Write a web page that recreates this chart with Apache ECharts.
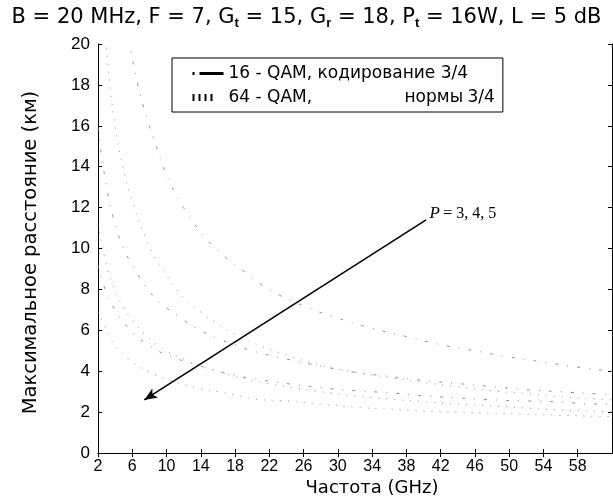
<!DOCTYPE html>
<html><head><meta charset="utf-8">
<script src="https://cdn.jsdelivr.net/npm/echarts@6/dist/echarts.min.js"></script>
<style>html,body{margin:0;padding:0;background:#fff}#c{width:613px;height:502px}</style>
</head><body><div id="c"></div>
<script>
// ---- data ----
const xTicks = [2,6,10,14,18,22,26,30,34,38,42,46,50,54,58];

const fA = [5.6,6.6,7.7,8.8,10,12,14,16,19,22,26,30,34,38,42,46,50,54,58,62];
const qam16_P3 = [20.2,18.1,16.4,15.0,13.6,12.0,10.8,9.9,8.9,8.0,7.2,6.6,6.1,5.7,5.3,5.0,4.7,4.45,4.2,4.0];

const fB = [2.9,3.5,4,5,6,8,10,12,14,16,18,20,24,28,32,36,40,44,48,52,56,60,62];
const qam64_P3 = [20.2,17.6,16.0,13.8,12.3,10.1,8.7,7.6,6.9,6.3,5.8,5.4,4.8,4.3,3.95,3.7,3.45,3.25,3.05,2.9,2.75,2.65,2.6];

const fC = [2,3,4,5,6,8,10,12,14,16,18,20,24,28,32,36,40,44,48,52,56,60,62];
const qam16_P4 = [15.9,13.0,11.2,10.0,9.2,7.9,7.1,6.5,6.0,5.6,5.3,5.0,4.6,4.25,3.95,3.75,3.55,3.4,3.25,3.1,3.0,2.9,2.85];
const qam16_P5 = [9.2,7.8,7.0,6.4,5.9,5.25,4.8,4.5,4.25,4.0,3.8,3.65,3.4,3.2,3.05,2.95,2.8,2.7,2.6,2.55,2.5,2.4,2.4];
const qam64_P4 = [11.2,9.2,7.95,7.1,6.5,5.6,5.0,4.6,4.25,4.0,3.75,3.55,3.25,3.0,2.8,2.65,2.5,2.4,2.3,2.2,2.1,2.05,2.0];
const qam64_P5 = [6.9,6.0,5.25,4.8,4.45,3.95,3.6,3.35,3.15,3.0,2.85,2.65,2.55,2.4,2.25,2.15,2.05,2.0,1.95,1.9,1.85,1.8,1.78];

const arrowFrom = [40.3, 11.4];
const arrowTo = [7.4, 2.6];
const arrowLabelAt = [44.6, 11.7];

const name16 = '16 - QAM, кодирование 3/4';
const name64 = '64 - QAM, нормы 3/4';

function zip(xs, ys){ return xs.map((x,i)=>[x, ys[i]]); }

const FONT = 'Liberation Sans, Arial, sans-serif';
const WFONT = 'DejaVu Sans, sans-serif';
const curveColor = '#909090';
const dashDot = [3,9,1,9];
const dotted = [1,7];

function curve(name, xs, ys, type){
  return {
    type:'line', name, data: zip(xs, ys), symbol:'none', smooth:true,
    clip:true, silent:true, itemStyle:{color:'#000'},
    lineStyle:{color:curveColor, width:1, type}
  };
}

const chart = echarts.init(document.getElementById('c'), null, {renderer:'canvas'});
chart.setOption({
  backgroundColor:'#fff',
  animation:false,
  title:{
    text:'{n|B = 20 MHz, F = 7, G}{s|t}{n| = 15, G}{s|r}{n| = 18, P}{s|t}{n| = 16W, L = 5 dB}',
    left:'center', top:1,
    textStyle:{
      fontWeight:'normal',
      rich:{
        n:{fontSize:21, fontFamily:WFONT, fontWeight:'normal', color:'#000', lineHeight:24},
        s:{fontSize:13, fontWeight:'bold', fontFamily:FONT, color:'#000', lineHeight:24, verticalAlign:'bottom', padding:[8,0,0,0]}
      }
    }
  },
  grid:{left:98, right:1, top:44, bottom:44},
  legend:{
    left:172, top:58, orient:'vertical',
    borderColor:'#000', borderWidth:1, padding:[7,8,6,17],
    itemWidth:31, itemHeight:10, itemGap:7,
    textStyle:{fontSize:17, fontFamily:WFONT, color:'#000',
      rich:{a:{fontSize:17, fontFamily:WFONT, width:176}, b:{fontSize:17, fontFamily:WFONT, width:63}, c:{fontSize:17, fontFamily:WFONT}}},
    formatter: n => n === name64 ? '{a|64 - QAM,}{b|нормы}{c|3/4}' : n,
    data:[
      {name:name16, itemStyle:{color:'transparent', borderWidth:0}, lineStyle:{color:'#000', width:3, type:[2,5,24,20]}},
      {name:name64, itemStyle:{color:'transparent', borderWidth:0}, lineStyle:{color:'#000', width:7, type:[2,4,2,4,2,4,2,20]}}
    ]
  },
  xAxis:[
    {type:'value', min:2, max:62, position:'bottom',
     axisLine:{show:true, lineStyle:{color:'#000', width:1}},
     axisTick:{show:true, inside:true, length:4, customValues:xTicks, lineStyle:{color:'#000'}},
     axisLabel:{customValues:xTicks, fontSize:16, fontFamily:FONT, color:'#000', margin:5},
     splitLine:{show:false},
     name:'Частота (GHz)', nameLocation:'middle', nameGap:25,
     nameTextStyle:{fontSize:18, fontFamily:WFONT, color:'#000', padding:[0,0,0,34]}
    },
    {type:'value', min:2, max:62, position:'top',
     axisLine:{show:true, lineStyle:{color:'#000', width:1}},
     axisTick:{show:true, inside:true, length:4, customValues:xTicks, lineStyle:{color:'#000'}},
     axisLabel:{show:false}, splitLine:{show:false}}
  ],
  yAxis:[
    {type:'value', min:0, max:20, interval:2, position:'left',
     axisLine:{show:true, lineStyle:{color:'#000', width:1}},
     axisTick:{show:true, inside:true, length:4, lineStyle:{color:'#000'}},
     axisLabel:{fontSize:17, fontFamily:FONT, color:'#000', margin:8},
     splitLine:{show:false},
     name:'Максимальное расстояние (км)', nameLocation:'middle', nameGap:57,
     nameTextStyle:{fontSize:19.5, fontFamily:WFONT, color:'#000', padding:[0,8,0,0]}
    },
    {type:'value', min:0, max:20, interval:2, position:'right',
     axisLine:{show:true, lineStyle:{color:'#000', width:1}},
     axisTick:{show:true, inside:true, length:4, lineStyle:{color:'#000'}},
     axisLabel:{show:false}, splitLine:{show:false}}
  ],
  series:[
    curve(name16, fA, qam16_P3, dashDot),
    curve(name16, fC, qam16_P4, dashDot),
    curve(name16, fC, qam16_P5, dashDot),
    curve(name64, fB, qam64_P3, dotted),
    curve(name64, fC, qam64_P4, dotted),
    curve(name64, fC, qam64_P5, dotted),
    {
      type:'line', name:'arrow', data:[], silent:true,
      markLine:{
        silent:true, symbol:['none','arrow'], symbolSize:[8,13], animation:false,
        label:{show:false},
        lineStyle:{color:'#000', width:1.6, type:'solid'},
        data:[[{coord:arrowFrom},{coord:arrowTo}]]
      },
      markPoint:{
        silent:true, symbol:'circle', symbolSize:0,
        label:{show:true, position:'inside',
          formatter:'{p|P} {t|= 3, 4, 5}',
          rich:{p:{fontFamily:'Liberation Serif, serif', fontStyle:'italic', fontSize:17, color:'#000'},
                t:{fontFamily:'Liberation Serif, serif', fontSize:16, color:'#000'}}},
        data:[{coord:arrowLabelAt}]
      }
    }
  ]
});
</script></body></html>
